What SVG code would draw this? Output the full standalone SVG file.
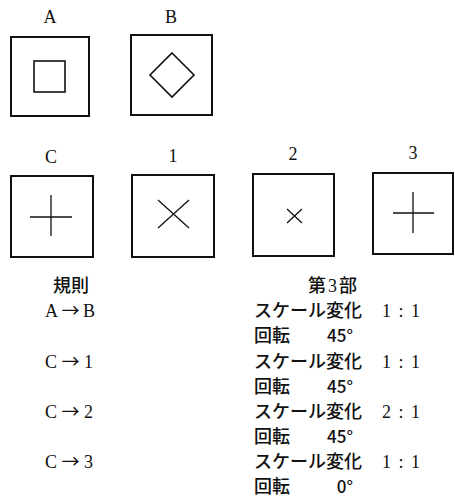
<svg xmlns="http://www.w3.org/2000/svg" width="455" height="499" viewBox="0 0 455 499">
<style>
.frame{fill:none;stroke:#111;stroke-width:2}
.shape{fill:none;stroke:#111;stroke-width:1.6}
.thin{fill:none;stroke:#111;stroke-width:1.3}
.lbl{font-family:"Liberation Serif",serif;font-size:18px;fill:#111;text-anchor:middle}
.jp{font-family:"Noto Sans CJK JP",sans-serif;font-size:18px;font-weight:500;fill:#111}
.deg{font-family:"Noto Sans CJK JP",sans-serif;font-size:17px;font-weight:500;fill:#111;text-anchor:end}
.sr{font-family:"Liberation Serif","Noto Sans CJK JP",serif;font-size:18px;fill:#111}
.ar{font-family:"Noto Sans CJK JP",sans-serif}
</style>
<rect width="455" height="499" fill="#fff"/>
<g id="A">
<text class="lbl" x="50" y="23">A</text>
<rect class="frame" x="11" y="37" width="78" height="79"/>
<rect class="shape" x="34" y="61" width="31" height="31"/>
</g>
<g id="B">
<text class="lbl" x="171" y="23">B</text>
<rect class="frame" x="131" y="35" width="81" height="80"/>
<polygon class="shape" points="172,53 194,75 172,97 150,75"/>
</g>
<g id="C">
<text class="lbl" x="51" y="163">C</text>
<rect class="frame" x="11" y="176" width="82" height="81"/>
<path class="thin" d="M30,217H72M51,195V236"/>
</g>
<g id="n1">
<text class="lbl" x="173" y="162">1</text>
<rect class="frame" x="132" y="175" width="82" height="82"/>
<path class="thin" d="M158,200L189,228M158,228L189,200"/>
</g>
<g id="n2">
<text class="lbl" x="293" y="160">2</text>
<rect class="frame" x="253" y="174" width="81" height="82"/>
<path class="thin" d="M287,209L302,223M287,223L302,209"/>
</g>
<g id="n3">
<text class="lbl" x="413" y="159">3</text>
<rect class="frame" x="373" y="173" width="80" height="81"/>
<path class="thin" d="M393,213H434M413,192V233"/>
</g>
<g id="rules">
<text class="jp" x="53" y="292">規則</text>
<text class="sr" x="45" y="317" textLength="50">A<tspan class="ar">→</tspan>B</text>
<text class="sr" x="45" y="368" textLength="48">C<tspan class="ar">→</tspan>1</text>
<text class="sr" x="45" y="418" textLength="48">C<tspan class="ar">→</tspan>2</text>
<text class="sr" x="45" y="468" textLength="48">C<tspan class="ar">→</tspan>3</text>
</g>
<g id="part3">
<text class="jp" x="308" y="292">第<tspan font-family="Liberation Serif" font-weight="400" dx="2">3</tspan><tspan dx="2">部</tspan></text>
<text class="jp" x="254" y="317">スケール変化</text>
<text class="sr" x="382" y="317" textLength="38">1 : 1</text>
<text class="jp" x="254" y="342">回転</text>
<text class="deg" x="353" y="342">45°</text>
<text class="jp" x="254" y="368">スケール変化</text>
<text class="sr" x="382" y="368" textLength="38">1 : 1</text>
<text class="jp" x="254" y="393">回転</text>
<text class="deg" x="353" y="393">45°</text>
<text class="jp" x="254" y="418">スケール変化</text>
<text class="sr" x="382" y="418" textLength="38">2 : 1</text>
<text class="jp" x="254" y="443">回転</text>
<text class="deg" x="353" y="443">45°</text>
<text class="jp" x="254" y="468">スケール変化</text>
<text class="sr" x="382" y="468" textLength="38">1 : 1</text>
<text class="jp" x="254" y="493">回転</text>
<text class="deg" x="353" y="493">0°</text>
</g>
</svg>
